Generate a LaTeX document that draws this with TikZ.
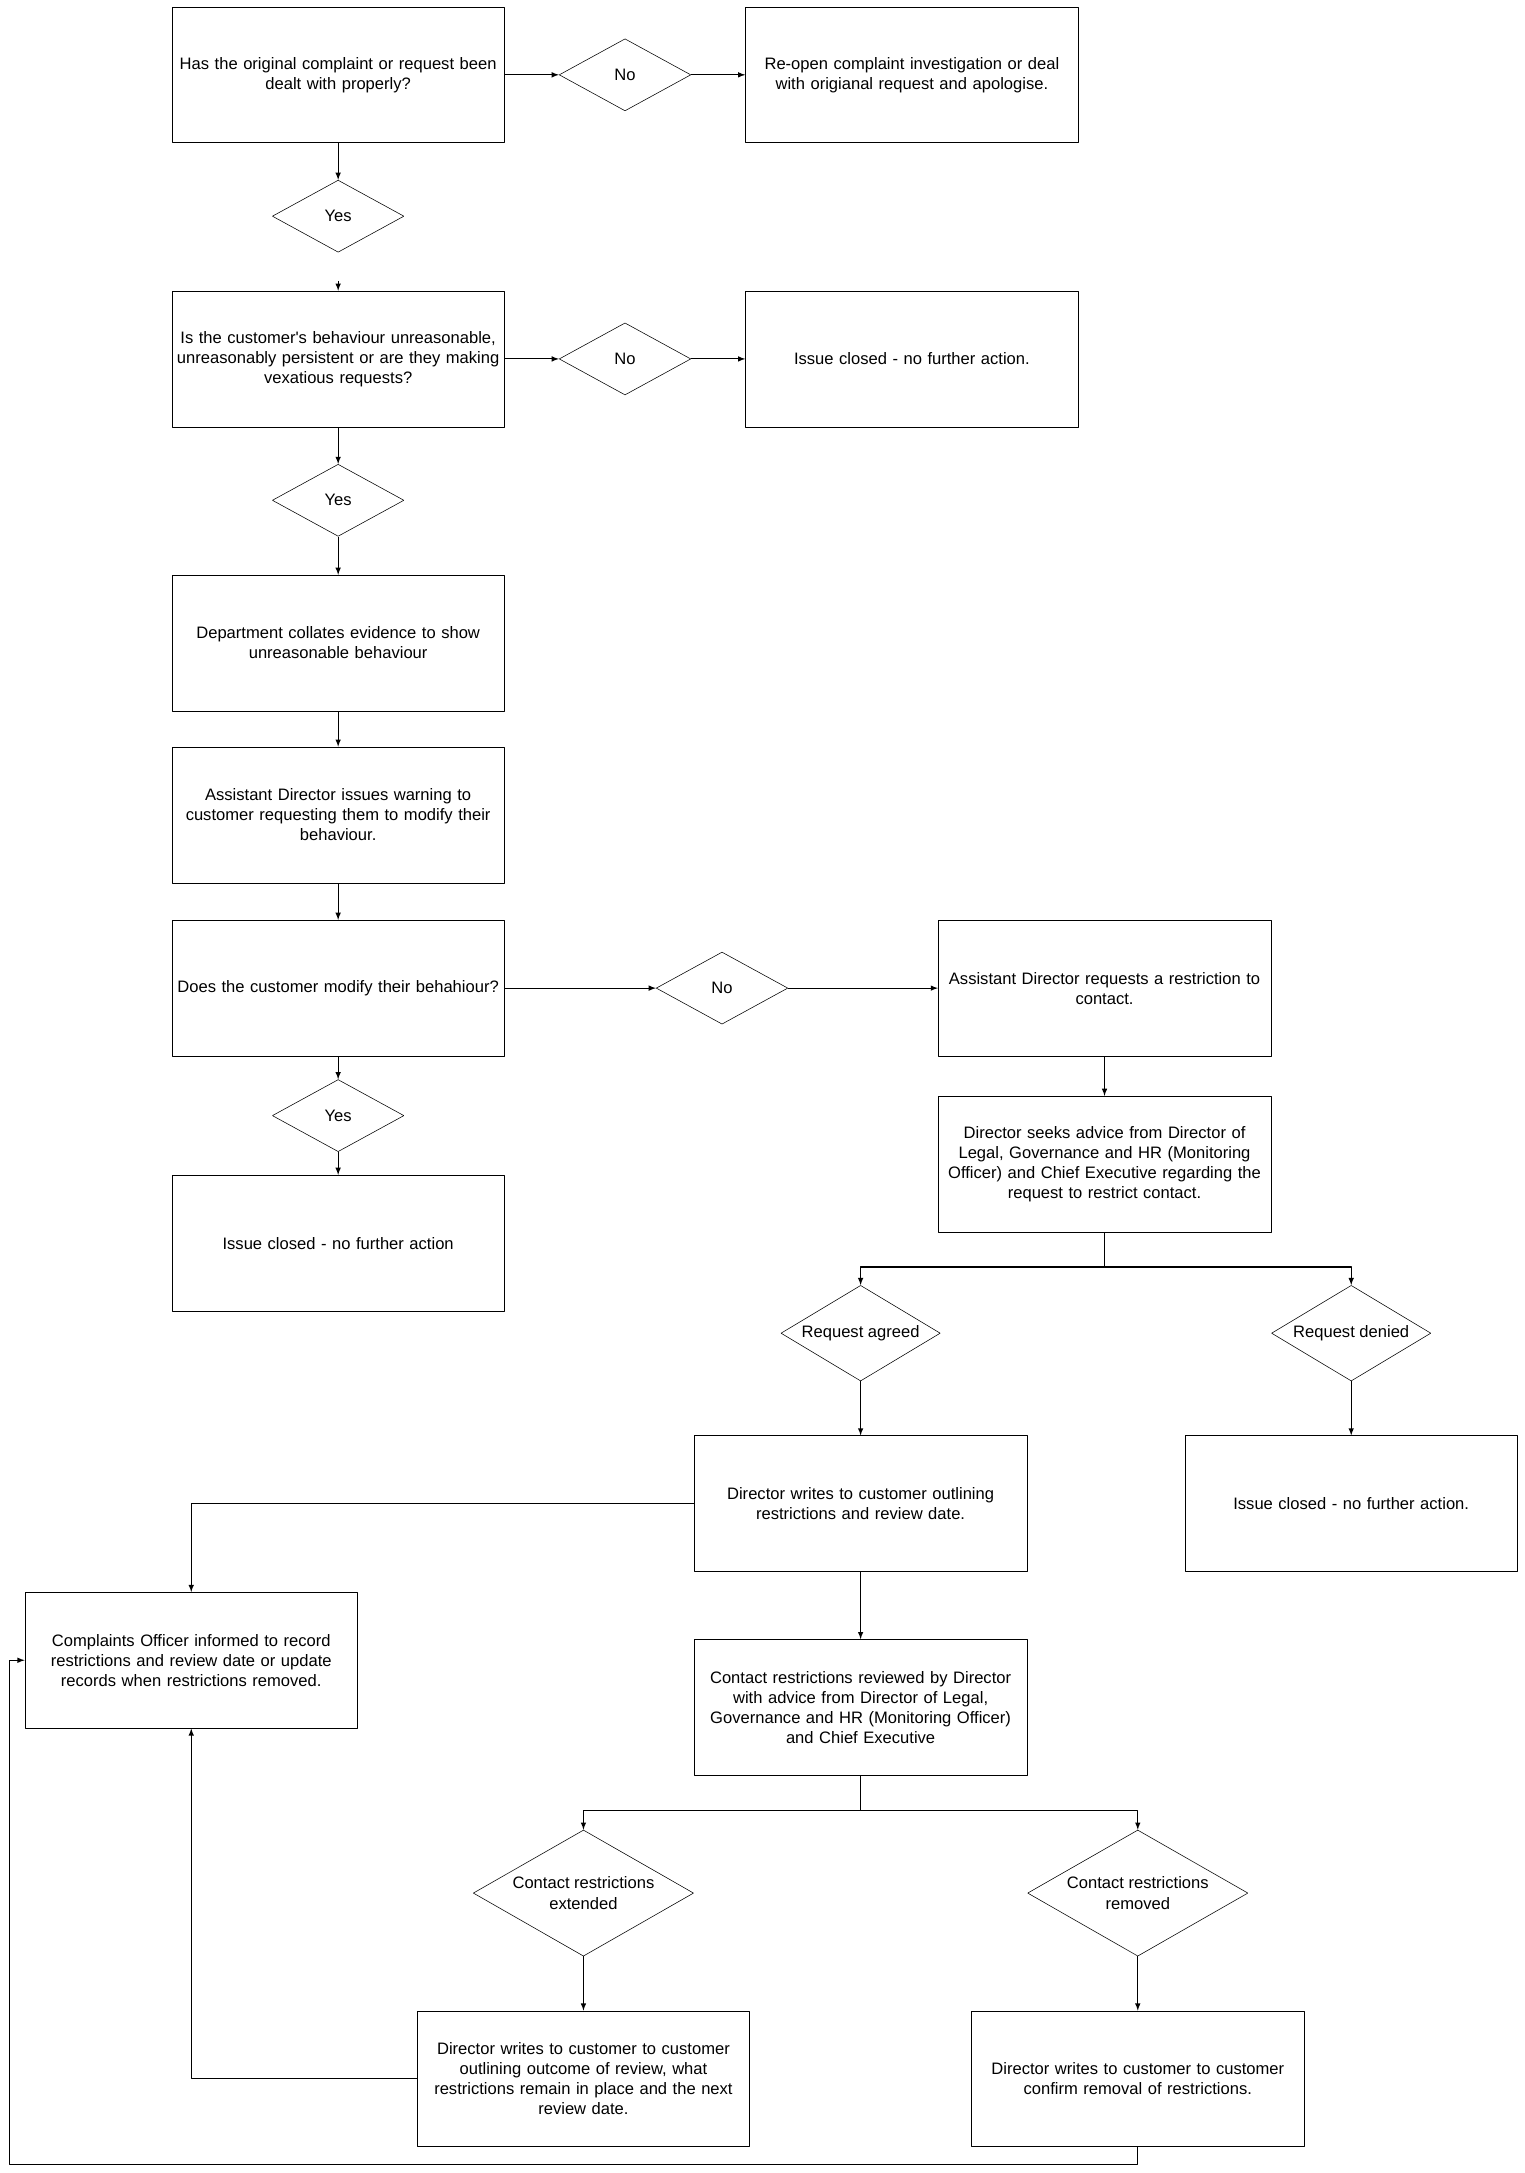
\documentclass[tikz,border=0pt]{standalone}
\usepackage{fontspec}
\setmainfont{Liberation Sans}
\usetikzlibrary{shapes.geometric,arrows}

\begin{document}
\begin{tikzpicture}[>=latex,line join=bevel,x=1bp,y=-1bp,
  every node/.style={font=\fontsize{12}{14.5}\selectfont},
  box/.style={draw,rectangle,minimum width=240bp,minimum height=98bp,text width=236bp,inner sep=2bp,align=center},
  choice/.style={draw,diamond,inner sep=0pt,align=center,shape aspect=1.8,minimum width=95bp,minimum height=52bp},
  bigchoice/.style={choice,shape aspect=1.7,minimum width=115bp,minimum height=69bp},
  widechoice/.style={choice,shape aspect=1.75,minimum width=159bp,minimum height=91bp},
  flow/.style={->,line width=0.8bp}]
  \useasboundingbox (0,0) rectangle (1100,1568);
%%
  % Node: handled
  \node[box] (handled) at (244,54) {Has the original complaint or request been\\dealt with properly?};
  % Node: noA
  \node[choice] (noA) at (451,54) {No};
  % Node: reopen
  \node[box] (reopen) at (658,54) {Re-open complaint investigation or deal\\with origianal request and apologise.};
  % Node: yesA
  \node[choice] (yesA) at (244,156) {Yes};
  % Node: behaviour
  \node[box] (behaviour) at (244,259) {Is the customer\textquotesingle s behaviour unreasonable,\\unreasonably persistent or are they making\\vexatious requests?};
  \coordinate (intobehaviour) at (244,203);
  % Node: noB
  \node[choice] (noB) at (451,259) {No};
  % Node: closedB
  \node[box] (closedB) at (658,259) {Issue closed - no further action.};
  % Node: yesB
  \node[choice] (yesB) at (244,361) {Yes};
  % Node: evidence
  \node[box] (evidence) at (244,464) {Department collates evidence to show\\unreasonable behaviour};
  % Node: warning
  \node[box] (warning) at (244,588) {Assistant Director issues warning to\\customer requesting them to modify their\\behaviour.};
  % Node: modify
  \node[box] (modify) at (244,713) {Does the customer modify their behahiour?};
  % Node: noC
  \node[choice] (noC) at (521,713) {No};
  % Node: restrict
  \node[box] (restrict) at (797,713) {Assistant Director requests a restriction to\\contact.};
  % Node: yesC
  \node[choice] (yesC) at (244,805) {Yes};
  % Node: closedC
  \node[box] (closedC) at (244,897) {Issue closed - no further action};
  % Node: advice
  \node[box] (advice) at (797,840) {Director seeks advice from Director of\\Legal, Governance and HR (Monitoring\\Officer) and Chief Executive regarding the\\request to restrict contact.};
  % Node: agreed
  \node[bigchoice] (agreed) at (621,962) {Request agreed};
  % Node: denied
  \node[bigchoice] (denied) at (975,962) {Request denied};
  % Node: outline
  \node[box] (outline) at (621,1085) {Director writes to customer outlining\\restrictions and review date.};
  % Node: closedD
  \node[box] (closedD) at (975,1085) {Issue closed - no further action.};
  % Node: officer
  \node[box] (officer) at (138,1198) {Complaints Officer informed to record\\restrictions and review date or update\\records when restrictions removed.};
  % Node: review
  \node[box] (review) at (621,1232) {Contact restrictions reviewed by Director\\with advice from Director of Legal,\\Governance and HR (Monitoring Officer)\\and Chief Executive};
  % Node: extended
  \node[widechoice] (extended) at (421,1366) {Contact restrictions\\extended};
  % Node: removed
  \node[widechoice] (removed) at (821,1366) {Contact restrictions\\removed};
  % Node: outcome
  \node[box] (outcome) at (421,1500) {Director writes to customer to customer\\outlining outcome of review, what\\restrictions remain in place and the next\\review date.};
  % Node: confirm
  \node[box] (confirm) at (821,1500) {Director writes to customer to customer\\confirm removal of restrictions.};
  \coordinate (loop) at (7,1562);
%%
  % Edge: handled -> noA -> reopen
  \draw[flow] (handled) -- (noA);
  \draw[flow] (noA) -- (reopen);
  % Edge: handled -> yesA -> behaviour
  \draw[flow] (handled) -- (yesA);
  \draw[flow] (intobehaviour) -- (behaviour);
  % Edge: behaviour -> noB -> closedB
  \draw[flow] (behaviour) -- (noB);
  \draw[flow] (noB) -- (closedB);
  % Edge: behaviour -> yesB -> evidence -> warning -> modify
  \draw[flow] (behaviour) -- (yesB);
  \draw[flow] (yesB) -- (evidence);
  \draw[flow] (evidence) -- (warning);
  \draw[flow] (warning) -- (modify);
  % Edge: modify -> noC -> restrict -> advice
  \draw[flow] (modify) -- (noC);
  \draw[flow] (noC) -- (restrict);
  \draw[flow] (restrict) -- (advice);
  % Edge: modify -> yesC -> closedC
  \draw[flow] (modify) -- (yesC);
  \draw[flow] (yesC) -- (closedC);
  % Edge: advice -> agreed / denied
  \draw[flow] (advice.south) -- ++(0,25) -| (agreed.north);
  \draw[flow] (advice.south) -- ++(0,25) -| (denied.north);
  \draw[flow] (agreed) -- (outline);
  \draw[flow] (denied) -- (closedD);
  % Edge: outline -> officer, outline -> review
  \draw[flow] (outline.west) -| (officer.north);
  \draw[flow] (outline) -- (review);
  % Edge: review -> extended / removed
  \draw[flow] (review.south) -- ++(0,25) -| (extended.north);
  \draw[flow] (review.south) -- ++(0,25) -| (removed.north);
  \draw[flow] (extended) -- (outcome);
  \draw[flow] (removed) -- (confirm);
  % Edge: outcome -> officer, confirm -> officer
  \draw[flow] (outcome.west) -| (officer.south);
  \draw[flow] (confirm.south) |- (loop) |- (officer.west);
%
\end{tikzpicture}
\end{document}
